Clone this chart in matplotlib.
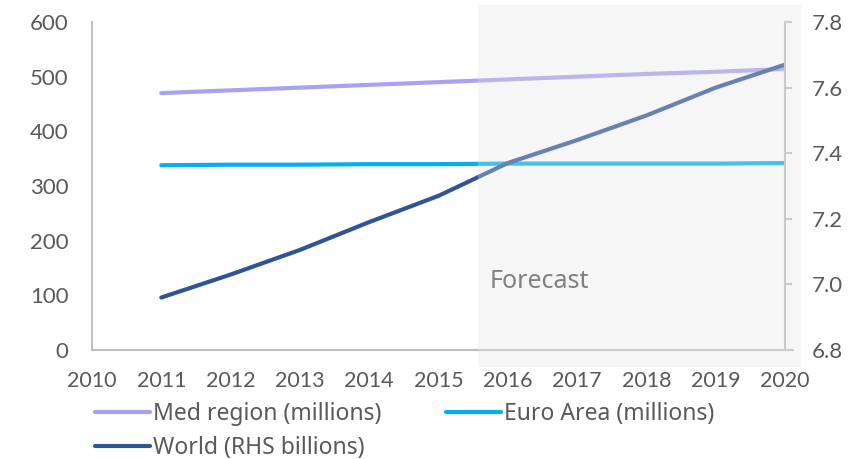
import matplotlib
matplotlib.use("Agg")
import matplotlib.pyplot as plt
from matplotlib.patches import Rectangle
from matplotlib.transforms import blended_transform_factory

plt.rcParams['font.family'] = ['Lato', 'DejaVu Sans']

# Population series, 2011-2020 (2016 onwards is forecast)
years = [2011, 2012, 2013, 2014, 2015, 2016, 2017, 2018, 2019, 2020]
med_region = [470, 475, 480, 485, 490, 495, 500, 505, 509, 514]
euro_area = [338, 339, 339, 340, 340, 341, 341, 341, 341, 342]
world = [6.96, 7.03, 7.105, 7.19, 7.27, 7.37, 7.44, 7.515, 7.60, 7.67]

left_ticks = [0, 100, 200, 300, 400, 500, 600]
right_ticks = [6.8, 7.0, 7.2, 7.4, 7.6, 7.8]
x_ticks = list(range(2010, 2021))
forecast_start, forecast_end = 2015.57, 2020.23

MED_COLOR = '#A7A2F1'
EURO_COLOR = '#00B0F0'
WORLD_COLOR = '#2F5597'
AXIS_GREY = '#BFBFBF'
TEXT_GREY = '#595959'
WIDE_FONT = ['Noto Sans', 'DejaVu Sans']

fig = plt.figure(figsize=(8.56, 4.59), dpi=100)
ax = fig.add_axes([0.1075, 0.2375, 0.8095, 0.7145])
ax2 = ax.twinx()

lw = 3.0
l_med, = ax.plot(years, med_region, color=MED_COLOR, lw=lw, solid_capstyle='round',
                 label='Med region (millions)')
l_euro, = ax.plot(years, euro_area, color=EURO_COLOR, lw=lw, solid_capstyle='round',
                  label='Euro Area (millions)')
l_world, = ax2.plot(years, world, color=WORLD_COLOR, lw=lw, solid_capstyle='round',
                    label='World (RHS billions)')

ax.set_xlim(2010, 2020)
ax.set_ylim(0, 600)
ax2.set_ylim(6.8, 7.8)

ax.set_xticks(x_ticks)
ax.set_xticklabels([str(y) for y in x_ticks])
ax.set_yticks(left_ticks)
ax2.set_yticks(right_ticks)
ax2.set_yticklabels([f'{v:.1f}' for v in right_ticks])

for a in (ax, ax2):
    for side in ('top', 'left', 'right', 'bottom'):
        a.spines[side].set_visible(False)

ax.spines['left'].set_visible(True)
ax.spines['left'].set_color(AXIS_GREY)
ax.spines['left'].set_linewidth(1.5)
ax.spines['bottom'].set_visible(True)
ax.spines['bottom'].set_color(AXIS_GREY)
ax.spines['bottom'].set_linewidth(1.5)
ax.spines['bottom'].set_bounds(2010, 2020.12)
ax2.spines['right'].set_visible(True)
ax2.spines['right'].set_color(AXIS_GREY)
ax2.spines['right'].set_linewidth(1.5)

ax.tick_params(axis='x', length=0, pad=15, labelsize=15.5, labelcolor=TEXT_GREY)
ax.tick_params(axis='y', length=0, pad=17, labelsize=16, labelcolor=TEXT_GREY)
ax2.tick_params(axis='y', length=5, width=1.5, color=AXIS_GREY, pad=14,
                labelsize=16, labelcolor=TEXT_GREY)

# Forecast shading, laid over the lines so they read lighter inside it
trans = blended_transform_factory(ax2.transData, ax2.transAxes)
shade = Rectangle((forecast_start, -0.052), forecast_end - forecast_start, 1.104,
                  transform=trans, facecolor='#E3E3E3', alpha=0.32,
                  edgecolor='none', zorder=5, clip_on=False)
ax2.add_patch(shade)
ax2.text(2015.74, 7.01, 'Forecast', color='#808080', fontsize=18,
         family=WIDE_FONT, va='center', ha='left', zorder=6)

fig.legend(handles=[l_med, l_world, l_euro], ncol=2, frameon=False,
           loc='upper left', bbox_to_anchor=(0.111, 0.124),
           prop={'family': WIDE_FONT, 'size': 16.5}, labelcolor=TEXT_GREY,
           handlelength=2.4, handletextpad=0.13, columnspacing=2.8,
           labelspacing=0.42, borderaxespad=0, borderpad=0)

fig.savefig('out.png', dpi=100)
